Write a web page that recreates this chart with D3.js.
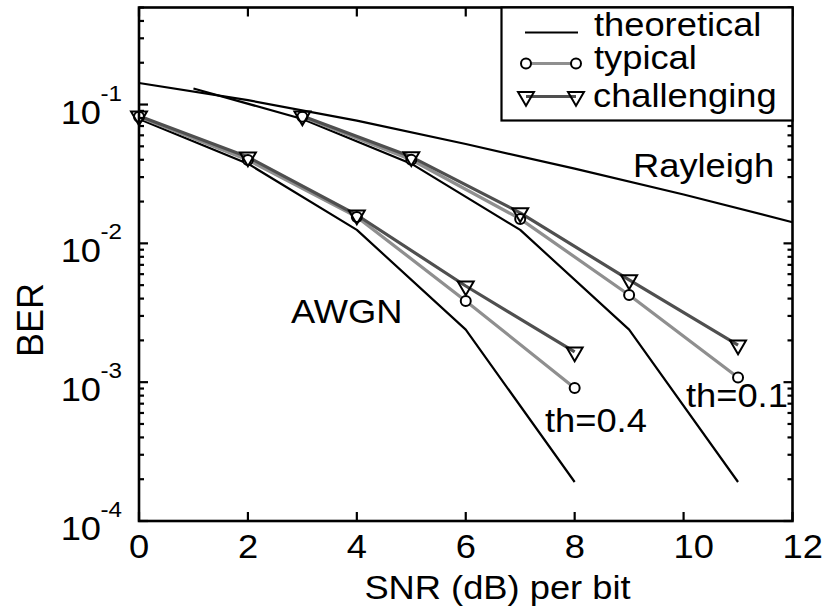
<!DOCTYPE html>
<html>
<head>
<meta charset="utf-8">
<script src="https://cdn.jsdelivr.net/npm/d3@7"></script>
<style>
  html, body { margin: 0; padding: 0; background: #fff; }
  svg text { font-family: "Liberation Sans", Arial, Helvetica, sans-serif; fill: #000; }
</style>
</head>
<body>
<svg id="chart" width="822" height="614"></svg>
<script>
// Theoretical BER curves (BPSK)
const snrAwgn = [0, 2, 4, 6, 8];
const berAwgn = [0.0786, 0.0375, 0.0125, 0.00239, 0.000191];
const snrAwgnShift = [1, 3, 5, 7, 9, 11];
const berAwgnShift = [0.1306, 0.0786, 0.0375, 0.0125, 0.00239, 0.000191];
const snrRayleigh = [0, 2, 4, 6, 8, 10, 12];
const berRayleigh = [0.143, 0.1075, 0.0765, 0.052, 0.0345, 0.0225, 0.0142];

// Measured BER, threshold 0.4
const snrTh04 = [0, 2, 4, 6, 8];
const typicalTh04 = [0.0815, 0.0399, 0.0155, 0.00385, 0.000908];
const challengingTh04 = [0.0826, 0.0419, 0.0160, 0.00493, 0.00165];

// Measured BER, threshold 0.1
const snrTh01 = [3, 5, 7, 9, 11];
const typicalTh01 = [0.0815, 0.0400, 0.0150, 0.00425, 0.00108];
const challengingTh01 = [0.0826, 0.0420, 0.0166, 0.00545, 0.00185];

const xTicks = [0, 2, 4, 6, 8, 10, 12];
const yDecades = [-4, -3, -2, -1];
const legendLabels = ["theoretical", "typical", "challenging"];

const svg = d3.select("#chart");
const pLeft = 139, pRight = 792.5, pTop = 7.5, pBottom = 521;
const sx = 1.1; // horizontal text stretch

const x = d3.scaleLinear().domain([0, 12]).range([pLeft, pRight]);
const y = d3.scaleLog().domain([1e-4, 0.5]).range([pBottom, pTop]);

const typicalColor = "#8f8f8f";
const challengingColor = "#4f4f4f";

function txt(g, px, py, s, size, anchor) {
  return g.append("text")
    .attr("transform", `translate(${px},${py}) scale(${sx},1)`)
    .attr("text-anchor", anchor || "start")
    .attr("font-size", size)
    .text(s);
}

// curves
const line = d3.line().x(d => x(d[0])).y(d => y(d[1]));
const zip = (a, b) => a.map((v, i) => [v, b[i]]);
const plot = svg.append("g");

function drawLine(xs, ys, color, width) {
  plot.append("path").datum(zip(xs, ys))
    .attr("d", line).attr("fill", "none")
    .attr("stroke", color).attr("stroke-width", width)
    .attr("stroke-linejoin", "round");
}

drawLine(snrRayleigh, berRayleigh, "#000", 2.2);
drawLine(snrAwgn, berAwgn, "#000", 2.2);
drawLine(snrAwgnShift, berAwgnShift, "#000", 2.2);
drawLine(snrTh04, typicalTh04, typicalColor, 3.2);
drawLine(snrTh01, typicalTh01, typicalColor, 3.2);
drawLine(snrTh04, challengingTh04, challengingColor, 3.2);
drawLine(snrTh01, challengingTh01, challengingColor, 3.2);

const tri = d3.symbol().type(d3.symbolTriangle).size(110);
function drawCircles(xs, ys) {
  plot.selectAll(null).data(zip(xs, ys)).enter().append("circle")
    .attr("cx", d => x(d[0])).attr("cy", d => y(d[1])).attr("r", 5)
    .attr("fill", "#fff").attr("stroke", "#000").attr("stroke-width", 2);
}
function drawTriangles(xs, ys) {
  plot.selectAll(null).data(zip(xs, ys)).enter().append("path")
    .attr("d", tri)
    .attr("transform", d => `translate(${x(d[0])},${y(d[1])}) rotate(180)`)
    .attr("fill", "none").attr("stroke", "#000").attr("stroke-width", 2);
}
drawCircles(snrTh04, typicalTh04);
drawCircles(snrTh01, typicalTh01);
drawTriangles(snrTh04, challengingTh04);
drawTriangles(snrTh01, challengingTh01);

// frame
svg.append("rect")
  .attr("x", pLeft).attr("y", pTop)
  .attr("width", pRight - pLeft).attr("height", pBottom - pTop)
  .attr("fill", "none").attr("stroke", "#000").attr("stroke-width", 2.6);

// tick marks, pointing inward on all four sides
const minorVals = [];
for (let e = -4; e <= -1; e++) {
  for (let m = 2; m <= 9; m++) {
    const v = m * Math.pow(10, e);
    if (v <= 0.5) minorVals.push(v);
  }
}
const majorVals = yDecades.map(e => Math.pow(10, e));

const ticks = svg.append("g");
function tickLine(x1, y1, x2, y2) {
  ticks.append("path")
    .attr("d", `M${x1},${y1}L${x2},${y2}`)
    .attr("stroke", "#000").attr("stroke-width", 2.2).attr("fill", "none");
}
xTicks.forEach(v => {
  tickLine(x(v), pBottom, x(v), pBottom - 9);
  tickLine(x(v), pTop, x(v), pTop + 9);
});
function yTick(v, len) {
  tickLine(pLeft, y(v), pLeft + len, y(v));
  tickLine(pRight, y(v), pRight - len, y(v));
}
majorVals.forEach(v => yTick(v, 9));
minorVals.forEach(v => yTick(v, 5));

// tick labels
const labels = svg.append("g");
xTicks.forEach(v => txt(labels, x(v) - 10, 558, String(v), 33, "start"));
yDecades.forEach(e => {
  const py = y(Math.pow(10, e));
  txt(labels, 101, py + 19, "10", 33, "end");
  txt(labels, 100.5, py - 4, String(e), 22, "start");
});

// axis titles
txt(labels, 497.5, 599, "SNR (dB) per bit", 33, "middle");
labels.append("text")
  .attr("transform", "translate(42.5,320) rotate(-90)")
  .attr("text-anchor", "middle").attr("font-size", 36)
  .text("BER");

// annotations
txt(labels, 633, 177, "Rayleigh", 33, "start");
txt(labels, 291, 323, "AWGN", 33, "start");
txt(labels, 545, 431.5, "th=0.4", 33, "start");
txt(labels, 686, 406.5, "th=0.1", 33, "start");

// legend
const lg = svg.append("g");
lg.append("rect").attr("x", 501.5).attr("y", pTop)
  .attr("width", pRight - 501.5).attr("height", 120.5 - pTop)
  .attr("fill", "#fff").attr("stroke", "#000").attr("stroke-width", 2.2);
const rowsY = [32.5, 63.5, 96.5];
lg.append("line").attr("x1", 525).attr("x2", 578).attr("y1", rowsY[0]).attr("y2", rowsY[0])
  .attr("stroke", "#000").attr("stroke-width", 2.2);
lg.append("line").attr("x1", 526).attr("x2", 576).attr("y1", rowsY[1]).attr("y2", rowsY[1])
  .attr("stroke", typicalColor).attr("stroke-width", 3.2);
lg.append("line").attr("x1", 526).attr("x2", 576).attr("y1", rowsY[2]).attr("y2", rowsY[2])
  .attr("stroke", challengingColor).attr("stroke-width", 3.2);
[526, 576].forEach(px => {
  lg.append("circle").attr("cx", px).attr("cy", rowsY[1]).attr("r", 5)
    .attr("fill", "#fff").attr("stroke", "#000").attr("stroke-width", 2);
  lg.append("path").attr("d", tri)
    .attr("transform", `translate(${px},${rowsY[2]}) rotate(180)`)
    .attr("fill", "none").attr("stroke", "#000").attr("stroke-width", 2);
});
txt(lg, 594, 36, legendLabels[0], 33, "start");
txt(lg, 594, 69, legendLabels[1], 33, "start");
txt(lg, 593, 107, legendLabels[2], 33, "start");
</script>
</body>
</html>
